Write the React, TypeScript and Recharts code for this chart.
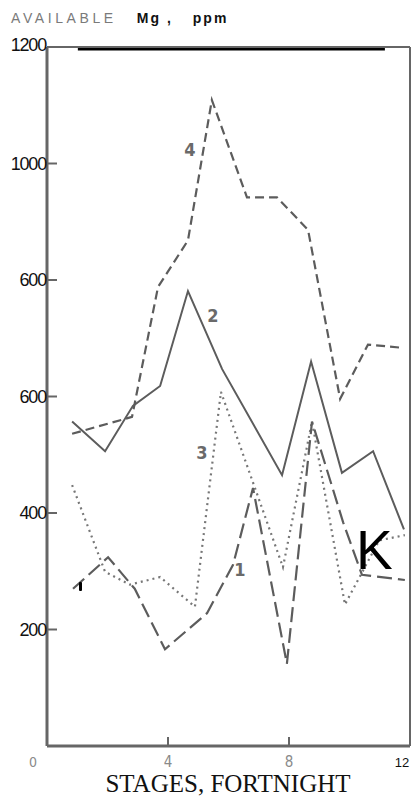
import React from "react";
import { LineChart, Line, XAxis, YAxis, ReferenceLine } from "recharts";

// Stage positions (x, fortnights) and available Mg (ppm)
const s1X = [0.86, 2.02, 2.9, 3.9, 5.29, 6.15, 6.81, 7.93, 8.76, 9.79, 10.41, 11.83];
const s1Y = [270, 324, 270, 166, 228, 311, 443, 141, 557, 384, 294, 285];

const s2X = [0.83, 1.92, 2.84, 3.74, 4.66, 5.79, 7.77, 8.73, 9.75, 10.78, 11.8];
const s2Y = [557, 506, 584, 618, 781, 647, 465, 660, 469, 506, 372];

const s3X = [0.83, 1.92, 2.74, 3.74, 4.89, 5.75, 7.8, 8.76, 9.85, 10.98, 11.83];
const s3Y = [448, 299, 277, 290, 239, 608, 307, 557, 243, 353, 362];

const s4X = [0.83, 2.81, 3.67, 4.66, 5.45, 6.61, 7.6, 8.63, 9.69, 10.61, 11.67];
const s4Y = [536, 565, 788, 868, 1109, 942, 942, 886, 596, 689, 684];

const xTicks = [0, 4, 8, 12];
const xTickLabels = ["0", "4", "8", "12"];
const yTicks = [200, 400, 600, 800, 1000, 1200];
const yTickLabels = ["200", "400", "600", "600", "1000", "1200"];

const zip = (xs: number[], ys: number[]) => xs.map((x, i) => ({ x, y: ys[i] }));
const d1 = zip(s1X, s1Y);
const d2 = zip(s2X, s2Y);
const d3 = zip(s3X, s3Y);
const d4 = zip(s4X, s4Y);

const GRAY = "#5c5c5c";

function YTick(props: any) {
  const { x, y, payload } = props;
  const i = yTicks.indexOf(payload.value);
  const label = i >= 0 ? yTickLabels[i] : String(payload.value);
  const isTop = payload.value === 1200;
  return (
    <g>
      {!isTop && <line x1={x} x2={x + 10} y1={y} y2={y} stroke="#666" strokeWidth={2} />}
      <text
        x={x - 1}
        y={y + (isTop ? -2 : 0)}
        textAnchor="end"
        dominantBaseline="central"
        fontFamily="'Liberation Sans', Arial, sans-serif"
        fontSize={18}
        letterSpacing={-1.2}
        fill="#111"
      >
        {label}
      </text>
    </g>
  );
}

function XTick(props: any) {
  const { x, y, payload } = props;
  const i = xTicks.indexOf(payload.value);
  const label = i >= 0 ? xTickLabels[i] : String(payload.value);
  const v = payload.value;
  if (v === 0) {
    return (
      <text x={x - 14} y={y + 16} textAnchor="middle" dominantBaseline="central"
        fontFamily="'DejaVu Sans Condensed', 'DejaVu Sans', sans-serif" fontSize={14} fill="#8a8a8a">
        {label}
      </text>
    );
  }
  if (v === 12) {
    return (
      <text x={x - 8} y={y + 16} textAnchor="middle" dominantBaseline="central"
        fontFamily="'Liberation Sans', Arial, sans-serif" fontSize={13} fill="#111">
        {label}
      </text>
    );
  }
  return (
    <g>
      <line x1={x} x2={x} y1={y - 9} y2={y} stroke="#666" strokeWidth={2} />
      <text x={x} y={y + 16} textAnchor="middle" dominantBaseline="central"
        fontFamily="'DejaVu Sans Condensed', 'DejaVu Sans', sans-serif" fontSize={15} fill="#8a8a8a">
        {label}
      </text>
    </g>
  );
}

const seriesLabel: React.CSSProperties = {
  position: "absolute",
  transform: "translate(-50%, -50%)",
  fontFamily: "'DejaVu Sans Condensed', 'DejaVu Sans', sans-serif",
  fontWeight: "bold",
  fontSize: 18,
  color: "#6a6a6a",
  lineHeight: "18px",
};

export default function App() {
  return (
    <div style={{ position: "absolute", top: 0, left: 0, width: 413, height: 798, background: "#fff", overflow: "hidden" }}>
      <LineChart
        width={413}
        height={798}
        margin={{ top: 47, right: 3, left: 0, bottom: 0 }}
        style={{ fontFamily: "'Liberation Sans', Arial, sans-serif" }}
      >
        <XAxis
          type="number"
          dataKey="x"
          domain={[0, 12]}
          ticks={xTicks}
          interval={0}
          height={52}
          tickSize={0}
          tickMargin={0}
          tickLine={false}
          axisLine={{ stroke: "#666", strokeWidth: 3 }}
          tick={<XTick />}
          allowDuplicatedCategory={false}
        />
        <YAxis
          type="number"
          dataKey="y"
          domain={[0, 1200]}
          ticks={yTicks}
          interval={0}
          width={47}
          tickSize={0}
          tickMargin={0}
          tickLine={false}
          axisLine={{ stroke: "#666", strokeWidth: 3 }}
          tick={<YTick />}
        />
        <ReferenceLine y={1200} stroke="#666" strokeWidth={2} />
        <ReferenceLine x={12} stroke="#666" strokeWidth={2} />
        <ReferenceLine
          segment={[{ x: 1.02, y: 1196 }, { x: 11.17, y: 1196 }]}
          stroke="#000"
          strokeWidth={2.5}
        />
        <Line data={d4} dataKey="y" stroke={GRAY} strokeWidth={2.2} strokeDasharray="9 5" dot={false} isAnimationActive={false} />
        <Line data={d2} dataKey="y" stroke={GRAY} strokeWidth={2} dot={false} isAnimationActive={false} />
        <Line data={d3} dataKey="y" stroke="#777" strokeWidth={2.2} strokeDasharray="2 4" dot={false} isAnimationActive={false} />
        <Line data={d1} dataKey="y" stroke={GRAY} strokeWidth={2.2} strokeDasharray="15 6" dot={false} isAnimationActive={false} />
      </LineChart>

      <div style={{ position: "absolute", left: 11, top: 10, lineHeight: "16px", whiteSpace: "nowrap" }}>
        <span style={{ fontFamily: "'Liberation Sans', Arial, sans-serif", fontSize: 14, letterSpacing: 3.6, color: "#7a7a7a" }}>
          AVAILABLE
        </span>
        <span style={{ fontFamily: "'Liberation Sans', Arial, sans-serif", fontSize: 14, fontWeight: "bold", letterSpacing: 2, color: "#111", marginLeft: 20 }}>
          Mg ,
        </span>
        <span style={{ fontFamily: "'Liberation Sans', Arial, sans-serif", fontSize: 14, fontWeight: "bold", letterSpacing: 2, color: "#111", marginLeft: 20 }}>
          ppm
        </span>
      </div>

      <div style={{ ...seriesLabel, left: 190, top: 150 }}>4</div>
      <div style={{ ...seriesLabel, left: 213, top: 316 }}>2</div>
      <div style={{ ...seriesLabel, left: 202, top: 453 }}>3</div>
      <div style={{ ...seriesLabel, left: 240, top: 570 }}>1</div>

      <div style={{ position: "absolute", left: 79, top: 582, width: 3, height: 9, background: "#000", borderRadius: 1 }} />

      <div style={{ position: "absolute", left: 356, top: 523, fontFamily: "'Liberation Sans', Arial, sans-serif", fontSize: 55, lineHeight: "55px", color: "#000" }}>
        K
      </div>

      <div style={{ position: "absolute", left: 0, width: 456, top: 771, textAlign: "center", fontFamily: "'Liberation Serif', 'Times New Roman', serif", fontSize: 25, lineHeight: "26px", color: "#111", whiteSpace: "nowrap" }}>
        STAGES, FORTNIGHT
      </div>
    </div>
  );
}
